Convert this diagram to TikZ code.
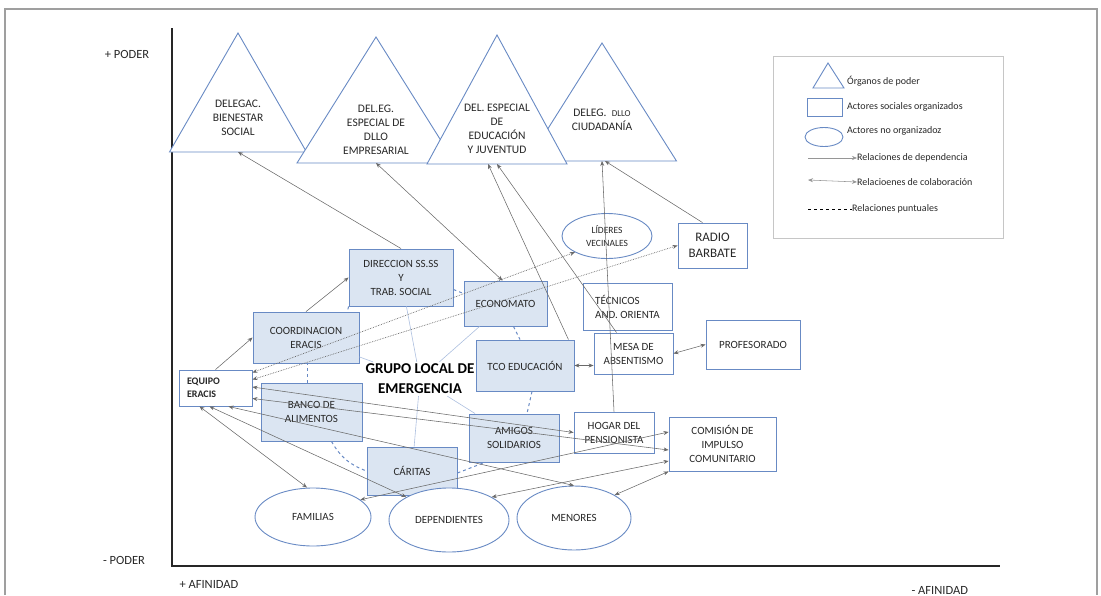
\documentclass[tikz,border=0pt]{standalone}
\usepackage{fontspec}
\setmainfont{Carlito}
\usepackage{tikz}
\usetikzlibrary{arrows.meta,shapes.geometric}
\definecolor{azulborde}{RGB}{104,138,196}
\definecolor{azulrelleno}{RGB}{219,229,242}
\definecolor{gris}{RGB}{105,105,105}
\definecolor{texto}{RGB}{40,40,40}
\tikzset{every picture/.style={x=1pt,y=-1pt}}
\tikzset{
  actor/.style={draw=azulborde, line width=0.9pt, fill=white, rectangle, align=center, text=texto, inner sep=1pt, font=\fontsize{11}{14}\selectfont},
  grupo/.style={actor, fill=azulrelleno},
  noorg/.style={draw=azulborde, line width=0.9pt, fill=white, ellipse, align=center, text=texto, inner sep=0pt, font=\fontsize{11}{14}\selectfont},
  dep/.style={draw=gris, line width=0.55pt, -{Stealth[length=5pt,width=4pt]}},
  colab/.style={draw=gris, line width=0.55pt, {Stealth[length=5pt,width=4pt]}-{Stealth[length=5pt,width=4pt]}},
  puntual/.style={draw=gris, line width=0.7pt, densely dotted, {Stealth[length=5pt,width=4pt]}-{Stealth[length=5pt,width=4pt]}},
  anillo/.style={draw=azulborde, line width=1pt, dashed},
  enlace/.style={draw=azulborde!55, line width=0.6pt},
  ejetexto/.style={text=texto, font=\fontsize{12.5}{15}\selectfont},
  leyendatexto/.style={anchor=west, inner sep=0pt, text=texto, font=\fontsize{10}{12}\selectfont},
}
% organo de poder: nombre, x, y vertice, y base, media base, y texto, texto
\newcommand{\organo}[7]{%
  \draw[azulborde, line width=0.9pt, fill=white] (#2,#3) -- (#2-#5,#4) -- (#2+#5,#4) -- cycle;
  \coordinate (#1b) at (#2,#4);
  \node[align=center, text=texto, font=\fontsize{11.5}{14}\selectfont] (#1) at (#2,#6) {#7};
}

\begin{document}
\begin{tikzpicture}
    \useasboundingbox (0,0) rectangle (1101,595);
    % marco y ejes
    \draw[gray!75, line width=1.2pt] (5,595) -- (5,9) -- (1097,9) -- (1097,595);
    \coordinate (ytop) at (172,28);
    \coordinate (origen) at (172,566);
    \coordinate (xfin) at (1000,566);
    \draw[black!85, line width=1.3pt] (ytop) -- (origen) -- (xfin);
    \node[ejetexto] (maspoder) at (127,54) {+ PODER};
    \node[ejetexto] (menospoder) at (124,560) {- PODER};
    \node[ejetexto, anchor=west] (masafinidad) at (176,584) {+ AFINIDAD};
    \node[ejetexto, anchor=west] (menosafinidad) at (908,590) {- AFINIDAD};

    % organos de poder
    \organo{t1}{238}{33}{152}{68.5}{118}{DELEGAC.\\BIENESTAR\\SOCIAL}
    \organo{t2}{376}{37}{163}{79}{130}{DEL.EG.\\ESPECIAL DE\\DLLO\\EMPRESARIAL}
    \organo{t4}{602}{43}{161}{74.5}{120}{DELEG.~~{\fontsize{9}{13}\selectfont DLLO}\\CIUDADANÍA}
    \organo{t3}{497}{35}{164}{70}{128.5}{DEL. ESPECIAL\\DE\\EDUCACIÓN\\Y JUVENTUD}

    % leyenda
    \node[draw=gray!45, line width=0.8pt, minimum width=230pt, minimum height=182pt] (leyenda) at (888,147) {};
    \draw[azulborde, line width=0.9pt] (828,63) -- (813,88) -- (844,88) -- cycle;
    \node[leyendatexto] (ley1) at (847,81) {Órganos de poder};
    \node[draw=azulborde, line width=0.9pt, minimum width=35pt, minimum height=18pt] (leyrect) at (824.5,107) {};
    \node[leyendatexto] (ley2) at (847,107) {Actores sociales organizados};
    \node[noorg, minimum width=38pt, minimum height=19pt] (leyelipse) at (824,137) {};
    \node[leyendatexto] (ley3) at (847,131) {Actores no organizadoz};
    \coordinate (ley4a) at (808,158);
    \node[leyendatexto] (ley4) at (857,158) {Relaciones de dependencia};
    \draw[dep, draw=gris!70] (ley4a) -- (ley4.west);
    \coordinate (ley5a) at (808,180);
    \node[leyendatexto] (ley5) at (857,182) {Relacioenes de colaboración};
    \draw[colab, draw=gris!70] (ley5a) -- (ley5.west);
    \coordinate (ley6a) at (808,209);
    \node[leyendatexto] (ley6) at (852,209) {Relaciones puntuales};
    \draw[black, line width=1pt, dashed] (ley6a) -- (ley6.west);

    % actores
    \node[grupo, minimum width=104pt, minimum height=57pt] (direccion) at (401,277.5) {DIRECCION SS.SS\\Y\\TRAB. SOCIAL};
    \node[grupo, minimum width=106pt, minimum height=51pt] (coordinacion) at (306,337.5) {COORDINACION\\ERACIS};
    \node[actor, align=left, text width=57pt, inner xsep=8pt, minimum height=36pt, font=\bfseries\fontsize{10}{13}\selectfont] (equipo) at (215.5,388) {EQUIPO\\ERACIS};
    \node[grupo, minimum width=101pt, minimum height=58pt] (banco) at (311.5,412) {BANCO DE\\ALIMENTOS};
    \node[grupo, minimum width=90pt, minimum height=48pt] (caritas) at (412,471) {CÁRITAS};
    \node[grupo, minimum width=83pt, minimum height=45pt] (economato) at (505.5,303.5) {ECONOMATO};
    \node[grupo, minimum width=98pt, minimum height=51pt] (tco) at (525,365.5) {TCO EDUCACIÓN};
    \node[actor, align=left, minimum width=89pt, minimum height=47pt] (tecnicos) at (627.5,306.5) {TÉCNICOS\\AND. ORIENTA};
    \node[actor, minimum width=79pt, minimum height=41pt] (mesa) at (633.5,353.5) {MESA DE\\ABSENTISMO};
    \node[actor, minimum width=94pt, minimum height=49pt] (profesorado) at (753,344.5) {PROFESORADO};
    \node[actor, minimum width=69pt, minimum height=45pt, font=\fontsize{13}{16}\selectfont] (radio) at (712.5,245.5) {RADIO\\BARBATE};
    \node[noorg, minimum width=90pt, minimum height=45pt, font=\fontsize{9.5}{13}\selectfont] (lideres) at (607,236) {LÍDERES\\VECINALES};
    \node[actor, minimum width=80pt, minimum height=41pt] (hogar) at (614,432.5) {HOGAR DEL\\PENSIONISTA};
    \node[grupo, minimum width=90pt, minimum height=48pt] (amigos) at (514,438) {AMIGOS\\SOLIDARIOS};
    \node[actor, minimum width=107pt, minimum height=54pt] (comision) at (722.5,444) {COMISIÓN DE\\IMPULSO\\COMUNITARIO};
    \node[noorg, minimum width=116pt, minimum height=58pt] (familias) at (313,517) {FAMILIAS};
    \node[noorg, minimum width=120pt, minimum height=64pt] (dependientes) at (449,520) {DEPENDIENTES};
    \node[noorg, minimum width=114pt, minimum height=64pt] (menores) at (574,518) {MENORES};
    \node[align=center, inner sep=2pt, text=black, font=\bfseries\fontsize{15}{20}\selectfont] (glocal) at (420,379) {GRUPO LOCAL DE\\EMERGENCIA};

    % grupo local de emergencia
    \foreach \m in {coordinacion,direccion,economato,amigos,caritas}
      \draw[enlace] (glocal) -- (\m);
    \draw[anillo] ([yshift=-12pt]direccion.east) -- ([yshift=10pt]economato.west);
    \draw[anillo] (direccion.south west) -- ([xshift=-12pt]coordinacion.north east);
    \draw[anillo] ([xshift=-4pt]banco.north) -- ([xshift=-4pt]banco.north |- coordinacion.south);
    \draw[anillo] ([xshift=8pt]economato.south) -- ([xshift=-5pt]tco.north);
    \draw[anillo] ([xshift=7pt]tco.south) -- ([xshift=13pt]amigos.north);
    \draw[anillo] ([xshift=20pt]banco.south) to[bend right=20] (caritas.west);
    \draw[anillo] ([yshift=-2pt]caritas.east) -- ([xshift=16pt]amigos.south west);

    % relaciones de dependencia
    \draw[dep] (direccion.north) -- (t1b);
    \draw[dep] ([xshift=-6pt]tco.north east) -- ([xshift=-9pt]t3b);
    \draw[dep] ([xshift=23pt]mesa.north west) -- (t3b);
    \draw[dep] (hogar.north) -- (t4b);
    \draw[dep] ([xshift=-10pt]radio.north) -- ([xshift=3pt]t4b);
    \draw[dep] (equipo.north) -- (coordinacion.west);
    \draw[dep] (coordinacion.north) -- (direccion.west);

    % relaciones de colaboracion
    \draw[colab] ([xshift=-3pt]economato.north) -- (t2b);
    \draw[colab] (tco.east) -- (tco.east -| mesa.west);
    \draw[colab] (mesa.east) -- (profesorado.west);
    \draw[colab] ([yshift=1pt]equipo.east) -- (hogar.west);
    \draw[colab] ([yshift=8pt]equipo.south east) -- ([yshift=-6pt]comision.west);
    \draw[colab] ([xshift=-24pt]equipo.south east) -- (menores.north);
    \draw[colab] ([xshift=-6pt]equipo.south) -- (dependientes.north west);
    \draw[colab] ([xshift=-16pt]equipo.south) -- ([xshift=-6pt]familias.north);
    \draw[colab] (familias.20) -- ([yshift=12pt]comision.west);
    \draw[colab] (dependientes.north east) -- ([yshift=-17pt]comision.west);
    \draw[colab] (menores.north east) -- (comision.south west);

    % relaciones puntuales
    \draw[puntual] ([yshift=-3pt]equipo.north east) -- (lideres.south west);
    \draw[puntual] ([yshift=-10pt]equipo.north east) -- (radio.west);
\end{tikzpicture}
\end{document}
